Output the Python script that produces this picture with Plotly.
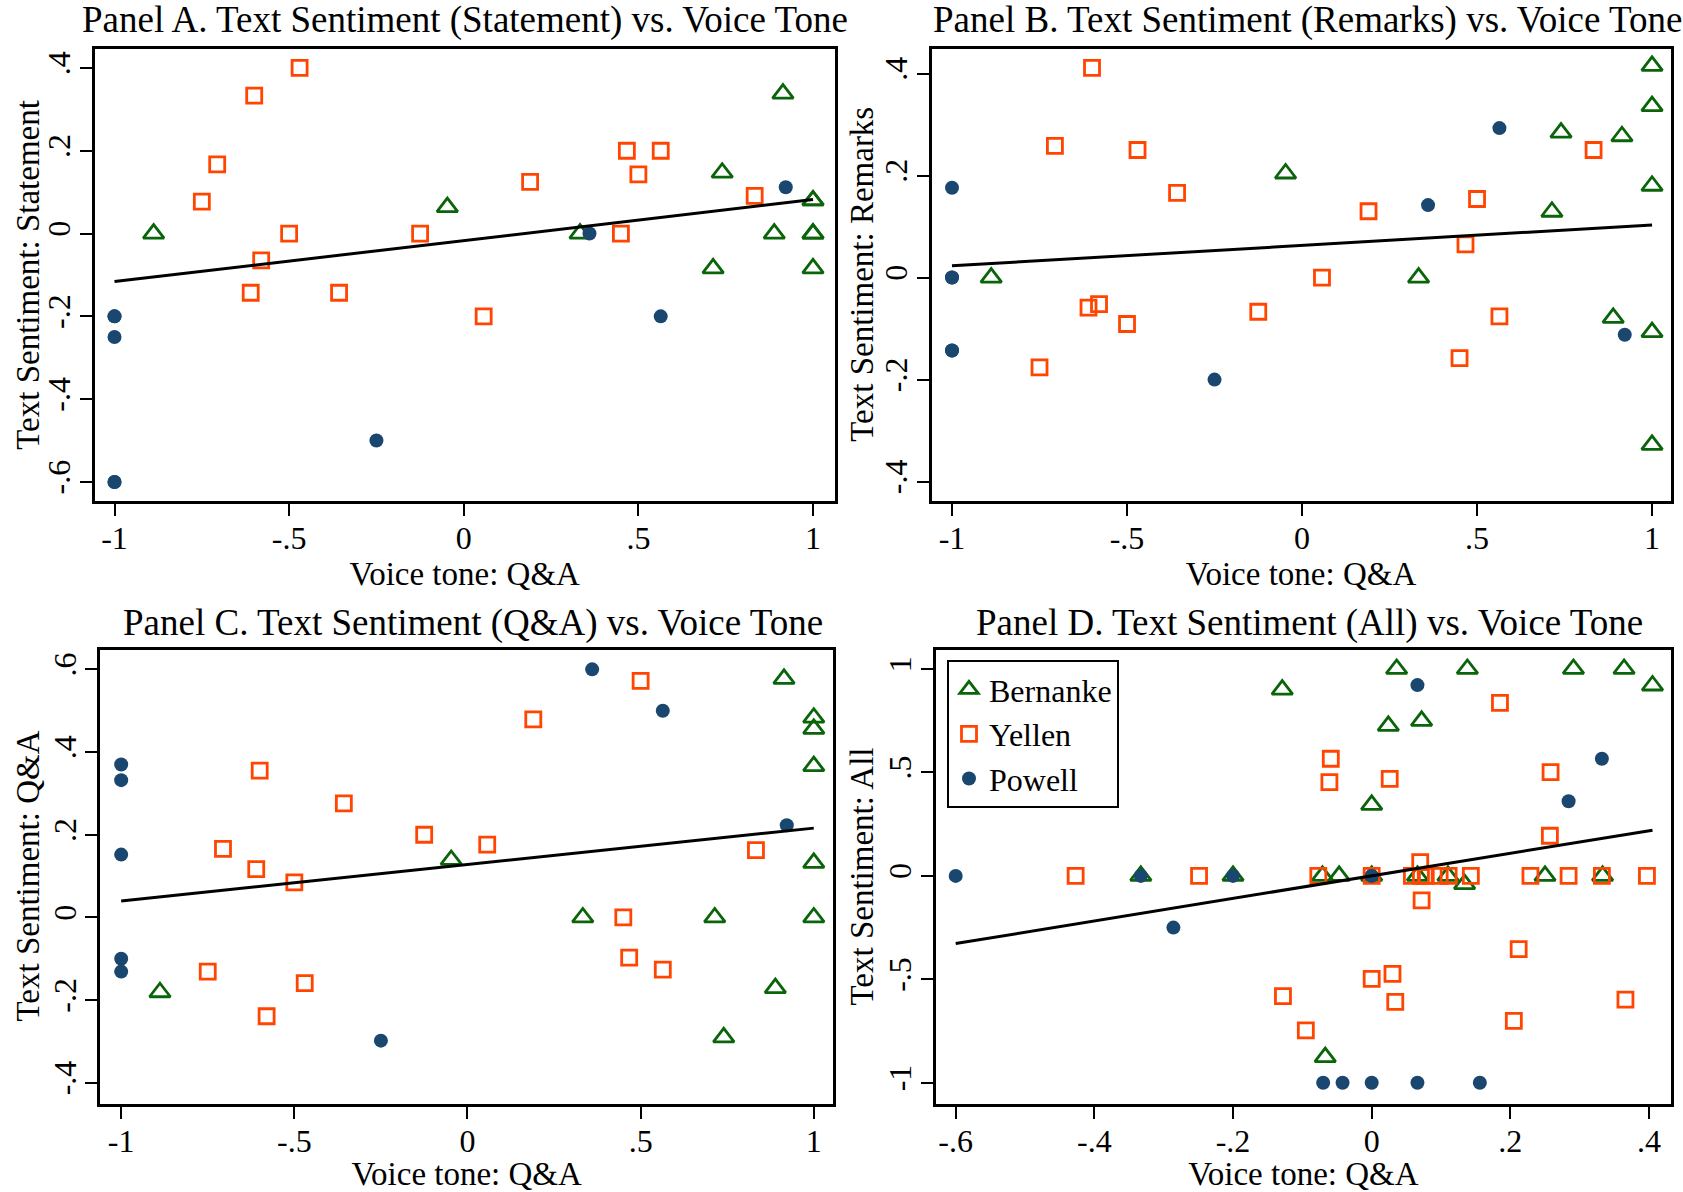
import plotly.graph_objects as go

W, H = 1683, 1192
FONT = "Liberation Serif"
GREEN = "#0a640a"
ORANGE = "#ff4500"
NAVY = "#1a476f"

# ---------------- data ----------------
# Panels A-C share voice tone (Q&A) per speaker
bern_x = [-0.888, -0.047, 0.333, 0.714, 0.74, 0.889, 0.914, 1, 1, 1, 1, 1]
bern_a = [0, 0.064, 0, -0.084, 0.147, 0, 0.338, 0.08, 0.08, 0, 0, -0.084]
bern_b = [0, 0.204, 0, 0.129, 0.284, -0.079, 0.277, 0.415, 0.336, 0.18, -0.107, -0.328]
bern_c = [-0.181, 0.139, 0, 0, -0.29, -0.171, 0.577, 0.483, 0.456, 0.366, 0.132, 0]

yel_x = [-0.75, -0.706, -0.61, -0.6, -0.58, -0.5, -0.47, -0.357, -0.125, 0.057,
         0.19, 0.45, 0.467, 0.5, 0.564, 0.833]
yel_a = [0.077, 0.167, -0.143, 0.333, -0.065, 0, 0.4, -0.143, 0, -0.2,
         0.125, 0, 0.2, 0.143, 0.2, 0.091]
yel_b = [-0.176, 0.258, -0.059, 0.411, -0.052, -0.091, 0.25, 0.166, -0.067, 0,
         0.13, -0.158, 0.065, 0.154, -0.076, 0.25]
yel_c = [-0.131, 0.166, 0.117, 0.355, -0.239, 0.085, -0.159, 0.276, 0.2, 0.176,
         0.479, 0, -0.097, 0.572, -0.126, 0.163]

pow_x = [-1, -1, -1, -1, -1, -0.25, 0.36, 0.564, 0.922]
pow_a = [-0.2, -0.2, -0.25, -0.6, -0.6, -0.5, 0, -0.2, 0.112]
pow_b = [0.176, 0, 0, -0.143, -0.143, -0.2, 0.142, 0.293, -0.112]
pow_c = [0.37, 0.332, 0.152, -0.1, -0.131, -0.298, 0.6, 0.5, 0.223]

# Panel D (All)
bern_dx = [-0.333, -0.2, -0.129, -0.071, -0.067, -0.047, 0, 0, 0.024, 0.036,
           0.066, 0.072, 0.11, 0.134, 0.138, 0.25, 0.291, 0.333, 0.364, 0.405]
bern_dy = [0, 0, 0.9, 0, -0.876, 0, 0.343, 0, 0.725, 1,
           0, 0.749, 0, -0.04, 1, 0, 1, 0, 1, 0.92]
yel_dx = [-0.427, -0.249, -0.077, 0, 0.058, 0.071, 0.078, 0.098, 0.111, 0.143,
          0.229, 0.284, 0.332, 0.397, 0.185, -0.059, -0.061, 0.026, 0.258, 0.257,
          0.212, 0.030, 0, 0.034, -0.128, -0.095, 0.205, 0.366, 0.07, 0.072]
yel_dy = [0, 0, 0, 0, 0, 0, 0, 0, 0, 0,
          0, 0, 0, 0, 0.836, 0.566, 0.453, 0.469, 0.501, 0.194,
          -0.354, -0.474, -0.498, -0.609, -0.581, -0.747, -0.701, -0.598, 0.066, -0.118]
pow_dx = [-0.6, -0.333, -0.286, -0.2, -0.07, -0.042, 0, 0, 0.066, 0.066, 0.156, 0.284, 0.332]
pow_dy = [0, 0, -0.25, 0, -1, -1, 0, -1, 0.922, -1, -1, 0.361, 0.566]

# fitted lines (endpoints)
fit_x_abc = [-1, 1]
fit_a = [-0.116, 0.082]
fit_b = [0.023, 0.103]
fit_c = [0.040, 0.216]
fit_x_d = [-0.6, 0.405]
fit_d = [-0.327, 0.221]

titles = ["Panel A. Text Sentiment (Statement) vs. Voice Tone",
          "Panel B. Text Sentiment (Remarks) vs. Voice Tone",
          "Panel C. Text Sentiment (Q&A) vs. Voice Tone",
          "Panel D. Text Sentiment (All) vs. Voice Tone"]
ytitles = ["Text Sentiment: Statement", "Text Sentiment: Remarks",
           "Text Sentiment: Q&A", "Text Sentiment: All"]
xtitle = "Voice tone: Q&A"

xt_abc = [-1, -0.5, 0, 0.5, 1]
xl_abc = ["-1", "-.5", "0", ".5", "1"]
xt_d = [-0.6, -0.4, -0.2, 0, 0.2, 0.4]
xl_d = ["-.6", "-.4", "-.2", "0", ".2", ".4"]
yt_a = [-0.6, -0.4, -0.2, 0, 0.2, 0.4]
yl_a = ["-.6", "-.4", "-.2", "0", ".2", ".4"]
yt_b = [-0.4, -0.2, 0, 0.2, 0.4]
yl_b = ["-.4", "-.2", "0", ".2", ".4"]
yt_c = [-0.4, -0.2, 0, 0.2, 0.4, 0.6]
yl_c = ["-.4", "-.2", "0", ".2", ".4", ".6"]
yt_d = [-1, -0.5, 0, 0.5, 1]
yl_d = ["-1", "-.5", "0", ".5", "1"]

# ---------------- layout geometry (pixels) ----------------
boxes = [  # left, right, top, bottom
    (94.5, 835, 48.5, 501),
    (931.5, 1670.6, 48.5, 501),
    (100.4, 833, 649.5, 1103.5),
    (935.8, 1671, 649.5, 1103.5),
]
xranges = [[-1.0573, 1.063], [-1.0586, 1.053], [-1.060, 1.0555], [-0.6287, 0.4317]]
yranges = [[-0.646, 0.447], [-0.438, 0.449], [-0.450, 0.648], [-1.100, 1.094]]
ytitle_x = [28, 862, 28, 862]

fig = go.Figure()

panels = [
    (bern_x, bern_a, yel_x, yel_a, pow_x, pow_a, fit_x_abc, fit_a),
    (bern_x, bern_b, yel_x, yel_b, pow_x, pow_b, fit_x_abc, fit_b),
    (bern_x, bern_c, yel_x, yel_c, pow_x, pow_c, fit_x_abc, fit_c),
    (bern_dx, bern_dy, yel_dx, yel_dy, pow_dx, pow_dy, fit_x_d, fit_d),
]

for i, (bx, by, yx, yy, px, py, fx, fy) in enumerate(panels):
    n = "" if i == 0 else str(i + 1)
    xa, ya = "x" + n, "y" + n
    leg = (i == 3)
    fig.add_trace(go.Scatter(x=bx, y=by, mode="markers", name="Bernanke", xaxis=xa, yaxis=ya,
                             showlegend=leg,
                             marker=dict(symbol="triangle-up-open", size=18, color=GREEN,
                                         line=dict(width=2.8, color=GREEN))))
    fig.add_trace(go.Scatter(x=yx, y=yy, mode="markers", name="Yellen", xaxis=xa, yaxis=ya,
                             showlegend=leg,
                             marker=dict(symbol="square-open", size=15, color=ORANGE,
                                         line=dict(width=2.8, color=ORANGE))))
    fig.add_trace(go.Scatter(x=px, y=py, mode="markers", name="Powell", xaxis=xa, yaxis=ya,
                             showlegend=leg,
                             marker=dict(symbol="circle", size=14, color=NAVY,
                                         line=dict(width=0))))
    fig.add_trace(go.Scatter(x=fx, y=fy, mode="lines", xaxis=xa, yaxis=ya, showlegend=False,
                             line=dict(color="black", width=3)))

tick_font = dict(family=FONT, size=32, color="black")
title_font = dict(family=FONT, size=33, color="black")

xticks = [(xt_abc, xl_abc)] * 3 + [(xt_d, xl_d)]
yticks = [(yt_a, yl_a), (yt_b, yl_b), (yt_c, yl_c), (yt_d, yl_d)]

layout = {}
annotations = []
for i in range(4):
    l, r, t, b = boxes[i]
    n = "" if i == 0 else str(i + 1)
    common = dict(showline=True, mirror=True, linecolor="black", linewidth=3,
                  ticks="outside", ticklen=12, tickwidth=2, tickcolor="black",
                  showgrid=False, zeroline=False, tickfont=tick_font)
    layout["xaxis" + n] = dict(common, domain=[l / W, r / W], range=xranges[i],
                               anchor="y" + n, tickvals=xticks[i][0], ticktext=xticks[i][1],
                               ticklabelstandoff=-5,
                               title=dict(text=xtitle, font=title_font, standoff=2))
    layout["yaxis" + n] = dict(common, domain=[1 - b / H, 1 - t / H], range=yranges[i],
                               anchor="x" + n, tickvals=yticks[i][0], ticktext=yticks[i][1],
                               tickangle=-90, ticklabelstandoff=-3)
    # y-axis title placed as rotated text beside the axis
    annotations.append(dict(text=ytitles[i], x=ytitle_x[i] / W, y=1 - (t + b) / 2 / H,
                            xref="paper", yref="paper", xanchor="center", yanchor="middle",
                            textangle=-90, showarrow=False, font=title_font))

title_pos = [(465, 20), (1307, 20), (473, 623), (1309, 623)]
for i, (cx, cy) in enumerate(title_pos):
    annotations.append(dict(text=titles[i], x=cx / W, y=1 - cy / H, xref="paper", yref="paper",
                            xanchor="center", yanchor="middle", showarrow=False,
                            font=dict(family=FONT, size=37, color="black")))

fig.update_layout(
    width=W, height=H,
    margin=dict(l=0, r=0, t=0, b=0),
    paper_bgcolor="white", plot_bgcolor="white",
    font=dict(family=FONT, color="black"),
    annotations=annotations,
    legend=dict(x=947 / W, y=1 - 660 / H, xanchor="left", yanchor="top",
                bgcolor="white", bordercolor="black", borderwidth=2,
                font=dict(family=FONT, size=32, color="black"),
                itemsizing="trace"),
    **layout,
)

fig.write_html("out.html", config={"displayModeBar": False},
               post_script="document.body.style.margin='0';")
